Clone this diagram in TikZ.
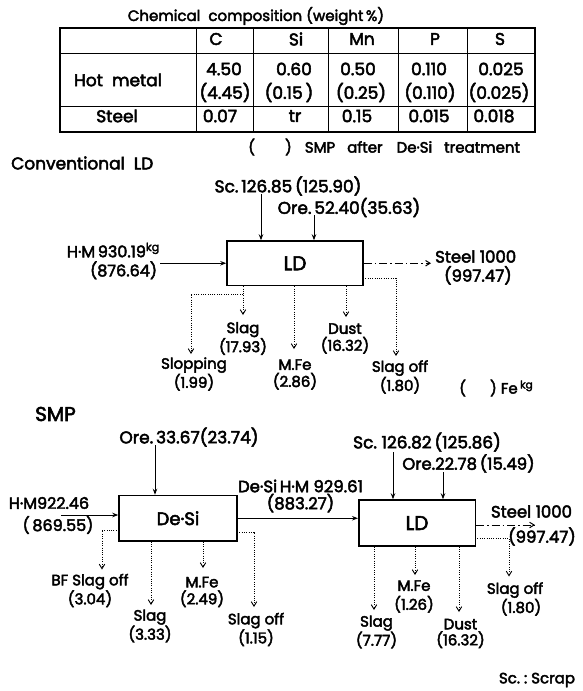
\documentclass[tikz,border=0pt]{standalone}
\usepackage{fontspec}
\setmainfont{Poppins}[UprightFeatures={FakeBold=2.8}]
\usetikzlibrary{arrows.meta}
\begin{document}
\begin{tikzpicture}[x=1pt,y=-1pt,
  lbl/.style={inner sep=0pt, font=\fontsize{15}{17}\selectfont, align=center},
  biglbl/.style={inner sep=0pt, font=\fontsize{17}{19}\selectfont},
  tcell/.style={inner sep=0pt, font=\fontsize{17}{18}\selectfont},
  ttl/.style={inner sep=0pt, font=\fontsize{15}{17}\selectfont},
  procbox/.style={draw, line width=1.5pt, inner sep=0pt, font=\fontsize{20}{22}\selectfont},
  mainarrow/.style={line width=1pt, -{Stealth[length=6pt,width=4.5pt]}},
  dotarrow/.style={line width=1pt, dash pattern=on 1pt off 1.3pt, -{Straight Barb[length=4.5pt,width=5.5pt,line width=0.9pt]}},
  ddarrow/.style={line width=1pt, dash pattern=on 8pt off 3pt on 1.5pt off 3pt, -{Straight Barb[length=4.5pt,width=5.5pt]}}
]
\useasboundingbox (0,0) rectangle (582,691);

% ---------------- table ----------------
\node[ttl] (tabtitle) at (256,16) {Chemical\ \ composition (weight\,\%)};
\draw[line width=1.2pt] (60,28) rectangle (535,132);
\draw[line width=1pt] (60,53) -- (535,53) (60,106) -- (535,106);
\foreach \xx in {196,253,328,398,467} \draw[line width=1pt] (\xx,28) -- (\xx,132);
\node[tcell] (hC) at (216,39) {C};
\node[tcell] (hSi) at (296,39) {Si};
\node[tcell] (hMn) at (362,39) {Mn};
\node[tcell] (hP) at (435,39) {P};
\node[tcell] (hS) at (500,39) {S};
\node[tcell] (rHM) at (118,80) {Hot\ \ metal};
\node[tcell] (rSt) at (117,116) {Steel};
\node[tcell] (c1) at (224,69) {4.50};
\node[tcell] (c2) at (225,92.5) {(4.45)};
\node[tcell] (s1) at (294,69) {0.60};
\node[tcell] (s2) at (289,92.5) {(0.15\,)};
\node[tcell] (m1) at (358,69) {0.50};
\node[tcell] (m2) at (361,92.5) {(0.25)};
\node[tcell] (p1) at (429,69) {0.110};
\node[tcell] (p2) at (430,92.5) {(0.110)};
\node[tcell] (q1) at (501,69) {0.025};
\node[tcell] (q2) at (499,92.5) {(0.025)};
\node[tcell] (c3) at (220,116) {0.07};
\node[tcell] (s3) at (295,116) {tr};
\node[tcell] (m3) at (357,116) {0.15};
\node[tcell] (p3) at (429,116) {0.015};
\node[tcell] (q3) at (494,116) {0.018};
\node[ttl, anchor=west] (foot) at (248,147) {(\hspace{30pt})\hspace{13pt}SMP\hspace{12pt}after\hspace{14pt}De·Si\hspace{12pt}treatment};

% ---------------- Conventional LD ----------------
\node[ttl, anchor=west, font=\fontsize{17}{19}\selectfont] (convt) at (11,163) {Conventional\ \ LD};
\node[procbox, minimum width=136pt, minimum height=44.5pt] (ld1) at (295,263.25) {LD};

\node[biglbl] (sc1) at (288,186) {Sc.\,126.85\,(125.90)};
\coordinate (sc1x) at (261,194);
\draw[mainarrow] (sc1x) -- (sc1x |- ld1.north);
\node[biglbl] (ore1) at (349,207.5) {Ore.\,52.40(35.63)};
\coordinate (ore1x) at (314,215);
\draw[mainarrow] (ore1x) -- (ore1x |- ld1.north);

\node[lbl, anchor=east, align=right, font=\fontsize{16}{19}\selectfont] (hm1) at (160,261) {H·M\,930.19$^{\mathrm{kg}}$\\(876.64)\,};
\draw[mainarrow] (hm1.east |- ld1.west) -- (ld1.west);

\node[lbl, anchor=west, font=\fontsize{16.5}{19}\selectfont] (steel1) at (435,267.5) {Steel\ 1000\\\ (997.47)};
\draw[ddarrow] (ld1.east) -- ([xshift=-4pt]steel1.west |- ld1.east);

% outputs
\node[lbl] (slag1) at (243,338.5) {Slag\\(17.93)};
\node[lbl] (dust1) at (345,338.5) {Dust\\(16.32)};
\node[lbl] (mfe1) at (295,374.5) {M.Fe\\(2.86)};
\node[lbl] (slop1) at (194,374) {Slopping\\(1.99)};
\node[lbl] (soff1) at (400,377) {Slag off\\(1.80)};
\node[lbl, anchor=west] (feleg) at (459,388) {(\hspace{24pt})\ Fe\,$^{\mathrm{kg}}$};

\coordinate (slagt) at (243,315);
\coordinate (slopt) at (191,354);
\coordinate (mfet) at (294,349);
\coordinate (dustt) at (346,317);
\coordinate (sofft) at (396,356);
\coordinate (slopj) at (243,294);
\coordinate (soffj) at (363,278);

\draw[dotarrow] (ld1.south -| slagt) -- (slagt);
\draw[dotarrow] (slopj) -- (slopj -| slopt) -- (slopt);
\draw[dotarrow] (ld1.south -| mfet) -- (mfet);
\draw[dotarrow] (ld1.south -| dustt) -- (dustt);
\draw[dotarrow] (soffj) -- (soffj -| sofft) -- (sofft);

% ---------------- SMP ----------------
\node[ttl, anchor=west, font=\fontsize{20}{22}\selectfont] (smpt) at (35,414) {SMP};
\node[procbox, minimum width=118pt, minimum height=45.5pt, font=\fontsize{18}{20}\selectfont] (desi) at (178,518.25) {De·Si};
\node[procbox, minimum width=116.5pt, minimum height=46pt] (ld2) at (417,523) {LD};

\node[biglbl] (ore2) at (189,437) {Ore.\,33.67(23.74)};
\coordinate (ore2x) at (155,445);
\draw[mainarrow] (ore2x) -- (ore2x |- desi.north);

\node[lbl, font=\fontsize{16}{18}\selectfont] (hm2a) at (49,503) {H·M922.46};
\node[lbl, font=\fontsize{16}{18}\selectfont] (hm2b) at (58,525) {(\,869.55)};
\coordinate (hm2s) at (61,515);
\draw[mainarrow] (hm2s) -- (hm2s -| desi.west);

\node[lbl, font=\fontsize{16.5}{17}\selectfont] (dshm) at (300.5,496) {De·Si\,H·M 929.61\\(883.27)};
\draw[mainarrow] (desi.east) -- (desi.east -| ld2.west);

\node[biglbl] (sc2) at (427,442) {Sc.\ 126.82\,(125.86)};
\coordinate (sc2x) at (393,452);
\draw[mainarrow] (sc2x) -- (sc2x |- ld2.north);
\node[biglbl, font=\fontsize{16.5}{18}\selectfont] (ore3) at (468.5,463.5) {Ore.22.78\,(15.49)};
\coordinate (ore3x) at (443,472);
\draw[mainarrow] (ore3x) -- (ore3x |- ld2.north);

\node[lbl, font=\fontsize{16.5}{18}\selectfont] (steel2a) at (531.5,511.5) {Steel\ 1000};
\node[lbl, font=\fontsize{16.5}{18}\selectfont] (steel2b) at (542,536.5) {(997.47)};
\coordinate (steel2t) at (535,525);
\draw[ddarrow] (ld2.east |- steel2t) -- (steel2t);

% De-Si outputs
\node[lbl] (bfso) at (90,590.5) {BF Slag off\\(3.04)};
\node[lbl, font=\fontsize{15}{15}\selectfont] (slag3) at (150,626) {Slag\\(3.33)};
\node[lbl] (mfe3) at (202,592) {M.Fe\\(2.49)};
\node[lbl, font=\fontsize{15}{15}\selectfont] (soff3) at (256,629.5) {Slag off\\(1.15)};
\coordinate (bfj) at (119,530);
\coordinate (bft) at (102,569.5);
\coordinate (slag3t) at (151,605);
\coordinate (mfe3t) at (203,568);
\coordinate (soff3j) at (237,532);
\coordinate (soff3t) at (254,607);
\draw[dotarrow] (bfj) -- (bfj -| bft) -- (bft);
\draw[dotarrow] (desi.south -| slag3t) -- (slag3t);
\draw[dotarrow] (desi.south -| mfe3t) -- (mfe3t);
\draw[dotarrow] (soff3j) -- (soff3j -| soff3t) -- (soff3t);

% LD (SMP) outputs
\node[lbl, font=\fontsize{15}{19}\selectfont] (mfe2) at (414,596.5) {M.Fe\\(1.26)};
\node[lbl, font=\fontsize{15}{18}\selectfont] (soff2) at (515,599) {Slag off\\\ \ \ (1.80)};
\node[lbl, font=\fontsize{15}{16}\selectfont] (slag2) at (376.5,632) {Slag\\(7.77)};
\node[lbl, font=\fontsize{15}{16}\selectfont] (dust2) at (460.5,633.5) {Dust\\(16.32)};
\coordinate (slag2t) at (374,610);
\coordinate (mfe2t) at (415,575);
\coordinate (dust2t) at (459,612);
\coordinate (soff2j) at (475,538.5);
\coordinate (soff2t) at (509,576.5);
\draw[dotarrow] (ld2.south -| mfe2t) -- (mfe2t);
\draw[dotarrow] (ld2.south -| slag2t) -- (slag2t);
\draw[dotarrow] (ld2.south -| dust2t) -- (dust2t);
\draw[dotarrow] (soff2j) -- (soff2j -| soff2t) -- (soff2t);

\node[lbl] (scrap) at (537,680) {Sc.\ :\ Scrap};
\end{tikzpicture}
\end{document}
